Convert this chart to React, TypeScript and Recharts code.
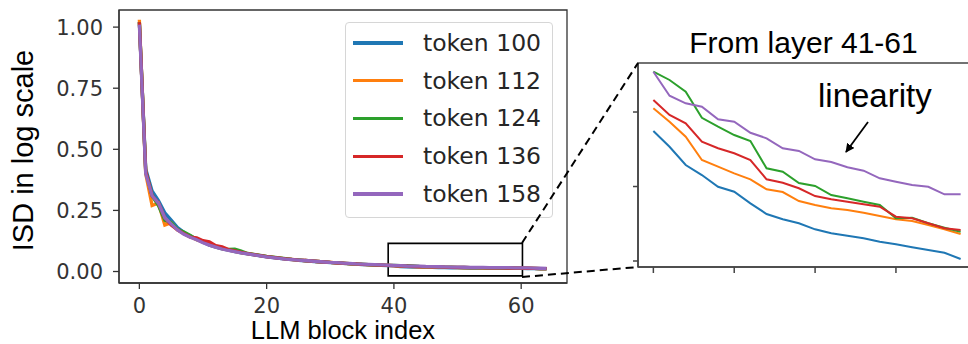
import { LineChart, Line, XAxis, YAxis, ReferenceArea, Legend } from 'recharts';

// main panel: ISD per LLM block
const blockIndex = [
  0, 1, 2, 3, 4, 5, 6, 7, 8, 9, 10, 11, 12, 13, 14, 15, 16, 17, 18, 19, 20, 21,
  22, 23, 24, 25, 26, 27, 28, 29, 30, 31, 32, 33, 34, 35, 36, 37, 38, 39, 40, 41,
  42, 43, 44, 45, 46, 47, 48, 49, 50, 51, 52, 53, 54, 55, 56, 57, 58, 59, 60, 61,
  62, 63, 64,
];
const token100 = [
  1.02, 0.42, 0.33, 0.29, 0.24, 0.21, 0.18, 0.16, 0.145, 0.132, 0.12, 0.108, 0.1,
  0.093, 0.087, 0.081, 0.076, 0.072, 0.068, 0.064, 0.06, 0.057, 0.054, 0.051,
  0.049, 0.046, 0.044, 0.042, 0.04, 0.038, 0.036, 0.034, 0.033, 0.031, 0.03,
  0.028, 0.027, 0.026, 0.025, 0.024, 0.023, 0.0205, 0.0195, 0.0185, 0.0178,
  0.017, 0.0166, 0.016, 0.0155, 0.0152, 0.0149, 0.0146, 0.0144, 0.0142, 0.014,
  0.0138, 0.0136, 0.0134, 0.0132, 0.013, 0.0126, 0.0121, 0.0117, 0.0113, 0.011,
];
const token112 = [
  1.03, 0.4, 0.27, 0.28, 0.19, 0.2, 0.17, 0.155, 0.142, 0.13, 0.121, 0.11, 0.101,
  0.094, 0.088, 0.082, 0.077, 0.073, 0.069, 0.065, 0.061, 0.058, 0.055, 0.052,
  0.049, 0.047, 0.045, 0.043, 0.041, 0.039, 0.037, 0.035, 0.033, 0.032, 0.03,
  0.029, 0.028, 0.027, 0.026, 0.025, 0.024, 0.0222, 0.0212, 0.02, 0.0188,
  0.0184, 0.018, 0.0176, 0.017, 0.0168, 0.0162, 0.016, 0.0158, 0.0156, 0.0154,
  0.0152, 0.015, 0.0148, 0.0146, 0.0143, 0.014, 0.0134, 0.0128, 0.0122, 0.0118,
];
const token124 = [
  1.02, 0.41, 0.31, 0.27, 0.21, 0.2, 0.172, 0.162, 0.148, 0.131, 0.124, 0.111,
  0.104, 0.095, 0.09, 0.091, 0.084, 0.074, 0.07, 0.066, 0.062, 0.059, 0.056,
  0.053, 0.05, 0.048, 0.045, 0.043, 0.041, 0.039, 0.037, 0.036, 0.034, 0.032,
  0.031, 0.03, 0.028, 0.027, 0.026, 0.025, 0.025, 0.024, 0.0236, 0.0228, 0.021,
  0.0204, 0.0196, 0.0192, 0.0176, 0.0174, 0.0166, 0.0164, 0.016, 0.0158, 0.0156,
  0.0154, 0.0146, 0.0146, 0.0143, 0.0141, 0.0139, 0.0132, 0.0126, 0.0121, 0.0117,
];
const token136 = [
  1.02, 0.41, 0.31, 0.28, 0.22, 0.19, 0.17, 0.155, 0.141, 0.138, 0.126, 0.121,
  0.106, 0.101, 0.09, 0.085, 0.078, 0.073, 0.069, 0.065, 0.061, 0.058, 0.055,
  0.052, 0.05, 0.047, 0.045, 0.043, 0.041, 0.039, 0.037, 0.035, 0.034, 0.032,
  0.031, 0.029, 0.028, 0.027, 0.026, 0.025, 0.024, 0.023, 0.022, 0.0214, 0.02,
  0.0196, 0.0192, 0.0188, 0.0176, 0.0173, 0.0168, 0.0165, 0.016, 0.0158, 0.0156,
  0.0154, 0.0147, 0.0146, 0.0143, 0.0141, 0.0139, 0.0133, 0.0127, 0.0122, 0.0118,
];
const token158 = [
  1.01, 0.4, 0.31, 0.28, 0.22, 0.195, 0.17, 0.152, 0.14, 0.13, 0.118, 0.108, 0.1,
  0.092, 0.086, 0.081, 0.076, 0.072, 0.068, 0.064, 0.06, 0.057, 0.054, 0.051,
  0.049, 0.047, 0.045, 0.043, 0.041, 0.039, 0.037, 0.036, 0.034, 0.033, 0.031,
  0.03, 0.029, 0.028, 0.027, 0.026, 0.025, 0.024, 0.0226, 0.0221, 0.0218, 0.0206,
  0.0204, 0.0194, 0.0189, 0.0182, 0.018, 0.0175, 0.0173, 0.0169, 0.0166, 0.0161,
  0.0159, 0.0157, 0.0156, 0.0152, 0.0152, 0.0146, 0.014, 0.0134, 0.013,
];

// zoomed panel: layers 41-60, unlabeled log axis
const insetLayers = [41, 42, 43, 44, 45, 46, 47, 48, 49, 50, 51, 52, 53, 54, 55, 56, 57, 58, 59, 60];
const inset100 = [1.745, 1.534, 1.289, 1.154, 0.997, 0.93, 0.774, 0.631, 0.56, 0.506, 0.425, 0.372, 0.34, 0.305, 0.259, 0.224, 0.184, 0.148, 0.111, 0.027];
const inset112 = [2.05, 1.87, 1.668, 1.356, 1.266, 1.177, 1.097, 0.962, 0.926, 0.805, 0.752, 0.707, 0.685, 0.648, 0.604, 0.56, 0.537, 0.483, 0.426, 0.362];
const inset124 = [2.541, 2.43, 2.272, 1.923, 1.803, 1.691, 1.611, 1.244, 1.199, 1.047, 1.007, 0.886, 0.842, 0.796, 0.752, 0.573, 0.581, 0.506, 0.447, 0.393];
const inset136 = [2.161, 1.96, 1.848, 1.601, 1.513, 1.446, 1.356, 1.097, 1.051, 0.976, 0.872, 0.828, 0.796, 0.761, 0.729, 0.595, 0.573, 0.506, 0.439, 0.416];
const inset158 = [2.541, 2.219, 2.117, 2.071, 1.902, 1.87, 1.722, 1.647, 1.513, 1.477, 1.365, 1.329, 1.258, 1.212, 1.11, 1.064, 1.02, 0.997, 0.895, 0.895];

const seriesKeys = ['t100', 't112', 't124', 't136', 't158'];
const seriesNames = ['token 100', 'token 112', 'token 124', 'token 136', 'token 158'];
const seriesColors = ['#1f77b4', '#ff7f0e', '#2ca02c', '#d62728', '#9467bd'];

const mainTicksX = [0, 20, 40, 60];
const mainTicksY = [0, 0.25, 0.5, 0.75, 1];
const insetTicksX = [41, 46, 51, 56];
const insetTicksY = [0, 1, 2];

const mainXDomain = [-3.2, 67.2];
const mainYDomain = [-0.047, 1.07];
const insetXDomain = [40.05, 60.95];
const insetYDomain = [-0.0805, 2.658];

const mainData = blockIndex.map((b, i) => ({
  block: b,
  t100: token100[i],
  t112: token112[i],
  t124: token124[i],
  t136: token136[i],
  t158: token158[i],
}));

const insetData = insetLayers.map((l, i) => ({
  layer: l,
  t100: inset100[i],
  t112: inset112[i],
  t124: inset124[i],
  t136: inset136[i],
  t158: inset158[i],
}));

const tickFont = { fill: '#333', fontSize: 21, fontFamily: 'DejaVu Sans' };

function YTitle(props: any) {
  const vb = props.viewBox ?? { x: 0, y: 10, width: 119, height: 273 };
  const cx = vb.x + 33;
  const cy = vb.y + vb.height / 2 + 4;
  return (
    <text
      transform={`translate(${cx},${cy}) rotate(-90)`}
      textAnchor="middle"
      fontSize={29}
      fontFamily="Liberation Sans"
      fill="#000"
    >
      ISD in log scale
    </text>
  );
}

function LegendBox(props: any) {
  const items = props.payload ?? [];
  return (
    <div
      style={{
        width: 208,
        height: 196,
        boxSizing: 'border-box',
        border: '1px solid #d6d6d6',
        borderRadius: 4,
        background: 'rgba(255,255,255,0.8)',
        paddingTop: 1,
      }}
    >
      {items.map((it: any) => (
        <div key={it.value} style={{ display: 'flex', alignItems: 'center', height: 37.8 }}>
          <span style={{ display: 'inline-block', marginLeft: 7, width: 50, height: 3.5, background: it.color }} />
          <span style={{ marginLeft: 20, fontSize: 23.5, fontFamily: 'DejaVu Sans', color: '#262626' }}>{it.value}</span>
        </div>
      ))}
    </div>
  );
}

export default function App() {
  return (
    <div style={{ position: 'absolute', left: 0, top: 0, width: 968, height: 344, overflow: 'hidden', background: '#fff' }}>
      <div style={{ position: 'absolute', left: 0, top: 0 }}>
        <LineChart width={600} height={344} data={mainData} margin={{ top: 10, right: 33, bottom: 0, left: 0 }}>
          <XAxis
            dataKey="block"
            type="number"
            domain={mainXDomain}
            ticks={mainTicksX}
            allowDataOverflow
            height={61}
            tickSize={6}
            tickMargin={9}
            stroke="#333"
            strokeWidth={1.3}
            tick={tickFont}
            label={{ value: 'LLM block index', position: 'insideBottom', offset: 5, fill: '#000', fontSize: 25.5, fontFamily: 'Liberation Sans' }}
          />
          <YAxis
            type="number"
            domain={mainYDomain}
            ticks={mainTicksY}
            allowDataOverflow
            tickFormatter={(v: number) => v.toFixed(2)}
            width={119}
            tickSize={6}
            tickMargin={10}
            stroke="#333"
            strokeWidth={1.3}
            tick={tickFont}
            label={<YTitle />}
          />
          {/* axes frame */}
          <ReferenceArea
            x1={mainXDomain[0]}
            x2={mainXDomain[1]}
            y1={mainYDomain[0]}
            y2={mainYDomain[1]}
            ifOverflow="visible"
            fill="none"
            fillOpacity={0}
            stroke="#333"
            strokeWidth={1.3}
          />
          <ReferenceArea x1={39.1} x2={60.2} y1={-0.018} y2={0.115} fill="none" fillOpacity={0} stroke="#000" strokeWidth={1.6} />
          {seriesKeys.map((k, i) => (
            <Line
              key={k}
              type="linear"
              dataKey={k}
              name={seriesNames[i]}
              stroke={seriesColors[i]}
              strokeWidth={3.3}
              dot={false}
              isAnimationActive={false}
            />
          ))}
          <Legend
            layout="vertical"
            align="center"
            verticalAlign="middle"
            content={<LegendBox />}
            wrapperStyle={{ left: 345, top: 22, width: 208, height: 196 }}
          />
        </LineChart>
      </div>

      <div style={{ position: 'absolute', left: 600, top: 0 }}>
        <LineChart width={400} height={344} data={insetData} margin={{ top: 63, right: 24, bottom: 0, left: 0 }}>
          <XAxis
            dataKey="layer"
            type="number"
            domain={insetXDomain}
            ticks={insetTicksX}
            allowDataOverflow
            tickFormatter={() => ''}
            height={77}
            tickSize={6}
            stroke="#444"
            strokeWidth={1.5}
          />
          <YAxis
            type="number"
            domain={insetYDomain}
            ticks={insetTicksY}
            allowDataOverflow
            tickFormatter={() => ''}
            width={38}
            tickSize={5}
            stroke="#444"
            strokeWidth={1.5}
          />
          <ReferenceArea
            x1={insetXDomain[0]}
            x2={insetXDomain[1]}
            y1={insetYDomain[0]}
            y2={insetYDomain[1]}
            ifOverflow="visible"
            fill="none"
            fillOpacity={0}
            stroke="#444"
            strokeWidth={1.5}
          />
          {seriesKeys.map((k, i) => (
            <Line
              key={k}
              type="linear"
              dataKey={k}
              name={seriesNames[i]}
              stroke={seriesColors[i]}
              strokeWidth={2}
              dot={false}
              isAnimationActive={false}
            />
          ))}
        </LineChart>
      </div>

      <svg width={968} height={344} style={{ position: 'absolute', left: 0, top: 0, pointerEvents: 'none' }}>
        <defs>
          <marker id="arrowHead" viewBox="0 0 10 10" refX="9" refY="5" markerWidth="5" markerHeight="5" orient="auto">
            <path d="M0,0 L10,5 L0,10 z" fill="#000" />
          </marker>
        </defs>
        <line x1={522} y1={243} x2={638} y2={63} stroke="#000" strokeWidth={2} strokeDasharray="8 5" />
        <line x1={522} y1={277} x2={638} y2={267} stroke="#000" strokeWidth={2} strokeDasharray="8 5" />
        <text x={803.5} y={53} textAnchor="middle" fontSize={30} fontFamily="Liberation Sans" fill="#000">
          From layer 41-61
        </text>
        <text x={818} y={107} fontSize={33} fontFamily="Liberation Sans" fill="#000">
          linearity
        </text>
        <line x1={868} y1={122} x2={846} y2={152} stroke="#000" strokeWidth={1.8} markerEnd="url(#arrowHead)" />
      </svg>
    </div>
  );
}
